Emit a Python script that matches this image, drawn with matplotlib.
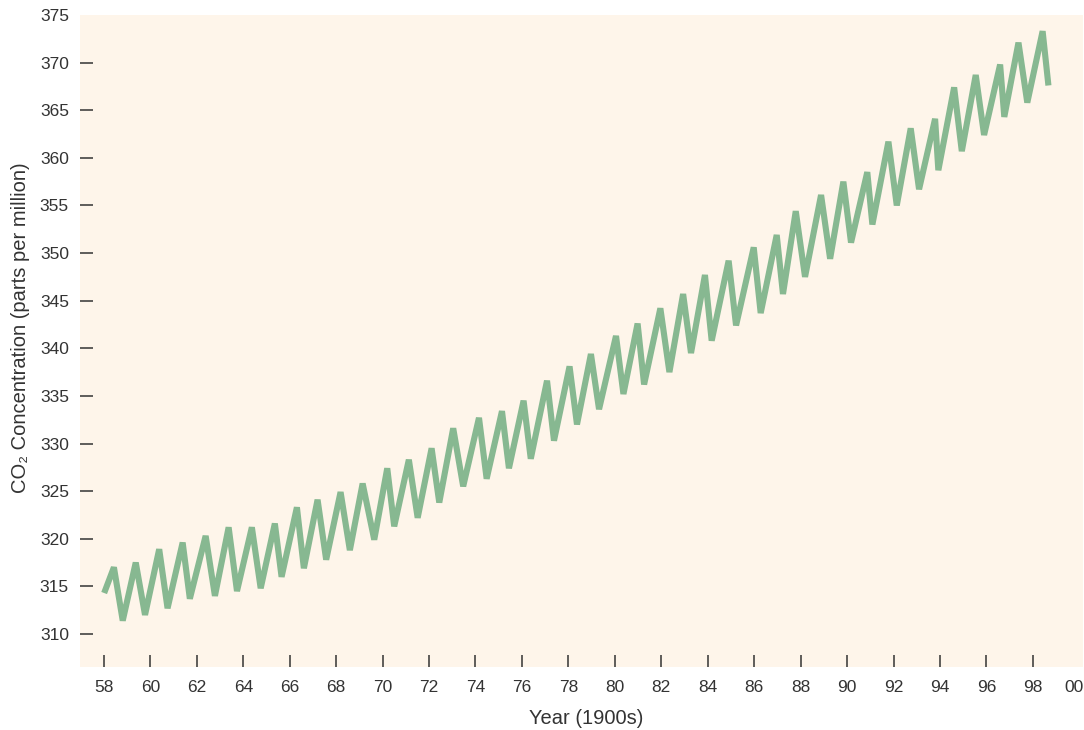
import matplotlib
matplotlib.use("Agg")
import matplotlib.pyplot as plt
import matplotlib.transforms as mtransforms

# Sample times (years since 1900) and CO2 concentration (ppm)
years = [58.01, 58.43, 58.81, 59.37, 59.77, 60.38, 60.74, 61.39, 61.70, 62.38,
         62.78, 63.37, 63.73, 64.37, 64.75, 65.36, 65.65, 66.31, 66.61, 67.20,
         67.57, 68.19, 68.59, 69.14, 69.64, 70.20, 70.50, 71.13, 71.51, 72.11,
         72.44, 73.04, 73.47, 74.15, 74.48, 75.14, 75.44, 76.07, 76.38, 77.08,
         77.38, 78.05, 78.37, 78.97, 79.32, 80.05, 80.37, 80.98, 81.26, 81.96,
         82.35, 82.94, 83.28, 83.88, 84.17, 84.90, 85.22, 85.98, 86.28, 86.97,
         87.24, 87.79, 88.19, 88.88, 89.27, 89.84, 90.17, 90.87, 91.09, 91.78,
         92.14, 92.74, 93.10, 93.79, 93.93, 94.61, 94.94, 95.54, 95.90, 96.59,
         96.77, 97.38, 97.76, 98.42, 98.67]
co2 = [314.3, 317.0, 311.4, 317.5, 312.0, 318.9, 312.7, 319.6, 313.7, 320.3,
       314.0, 321.2, 314.5, 321.2, 314.8, 321.6, 316.0, 323.3, 316.9, 324.1,
       317.8, 324.9, 318.8, 325.8, 319.9, 327.4, 321.3, 328.3, 322.2, 329.5,
       323.8, 331.6, 325.5, 332.7, 326.3, 333.4, 327.4, 334.5, 328.4, 336.6,
       330.3, 338.1, 332.0, 339.4, 333.6, 341.3, 335.2, 342.6, 336.2, 344.2,
       337.5, 345.7, 339.5, 347.7, 340.8, 349.2, 342.4, 350.6, 343.7, 351.9,
       345.7, 354.4, 347.5, 356.1, 349.4, 357.5, 351.1, 358.5, 353.0, 361.7,
       355.0, 363.1, 356.7, 364.1, 358.7, 367.4, 360.7, 368.7, 362.4, 369.8,
       364.3, 372.1, 365.8, 373.3, 367.6]

x_ticks = [58, 60, 62, 64, 66, 68, 70, 72, 74, 76, 78, 80, 82, 84, 86, 88, 90,
           92, 94, 96, 98, 100]
x_tick_labels = ["58", "60", "62", "64", "66", "68", "70", "72", "74", "76",
                 "78", "80", "82", "84", "86", "88", "90", "92", "94", "96",
                 "98", "00"]
y_ticks = [310, 315, 320, 325, 330, 335, 340, 345, 350, 355, 360, 365, 370, 375]

FONT = ["Liberation Sans", "DejaVu Sans"]
plt.rcParams["font.family"] = FONT
TXT = "#333333"

fig = plt.figure(figsize=(10.84, 7.30), dpi=100)
ax = fig.add_axes([0.0738, 0.0859, 0.9253, 0.8942])
ax.set_facecolor("#FEF5EA")
for s in ax.spines.values():
    s.set_visible(False)

ax.plot(years, co2, color="#87B891", linewidth=4.4,
        solid_joinstyle="bevel", solid_capstyle="butt")

ax.set_xlim(56.97, 100.16)
ax.set_ylim(306.5, 375.05)

ax.set_xticks(x_ticks)
ax.set_xticklabels(x_tick_labels)
ax.set_yticks(y_ticks)
ax.set_yticklabels([str(v) for v in y_ticks])

ax.tick_params(axis="both", direction="in", length=9, width=1.1,
               color=TXT, labelcolor=TXT, labelsize=12.5)
ax.tick_params(axis="x", pad=9)
ax.tick_params(axis="y", pad=8)
ax.xaxis.get_major_ticks()[-1].tick1line.set_visible(False)
ax.yaxis.get_major_ticks()[-1].tick1line.set_visible(False)

# nudge the last x label ("00") slightly left, as in the reference
last = ax.get_xticklabels()[-1]
last.set_transform(last.get_transform() +
                   mtransforms.ScaledTranslation(-5 / 100, 0, fig.dpi_scale_trans))

ax.set_xlabel("Year (1900s)", fontsize=14.5, color=TXT)
ax.set_ylabel("CO\u2082 Concentration (parts per million)", fontsize=14.5, color=TXT)
ax.xaxis.set_label_coords(0.505, -0.064)
ax.yaxis.set_label_coords(-0.050, 0.52)

fig.savefig("out.png", dpi=100)
